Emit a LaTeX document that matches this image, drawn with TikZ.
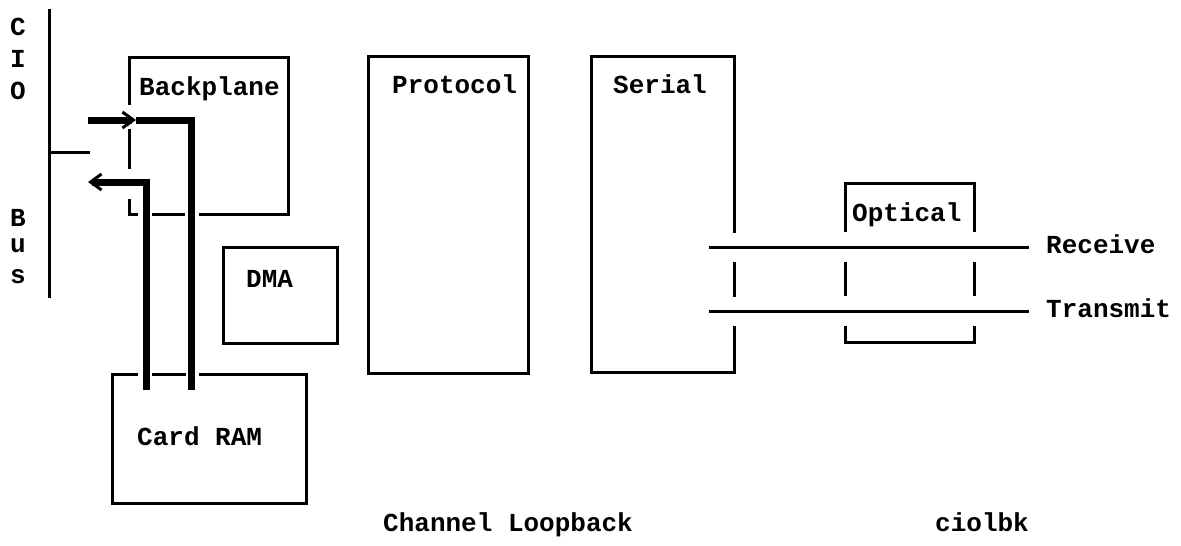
\documentclass[tikz,border=0pt]{standalone}
\usepackage{fontspec}
\setmainfont{Liberation Mono}
\usetikzlibrary{arrows.meta}
\begin{document}
\begin{tikzpicture}[x=1pt,y=-1pt,
  thin line/.style={line width=3pt,line cap=rect},
  bus line/.style={line width=7pt},
  lbl/.style={anchor=base west,inner sep=0pt,font=\fontsize{26}{30}\selectfont\bfseries},
  vlbl/.style={anchor=center,inner sep=0pt,font=\fontsize{26}{30}\selectfont\bfseries},
  tip/.style={-{Straight Barb[length=11pt,width=16pt,line width=3pt]}}]
\useasboundingbox (0,0) rectangle (1181,546);
% CIO bus
\draw[thin line] (49,10) -- (49,296);
\draw[thin line] (50,152) -- (88,152);
\node[vlbl] (lc) at (18,27) {C};
\node[vlbl] (li) at (18,59) {I};
\node[vlbl] (lo) at (18,91) {O};
\node[vlbl] (lb) at (18,218) {B};
\node[vlbl] (lu) at (18,246) {u};
\node[vlbl] (ls) at (18,277) {s};
% Backplane (broken box)
\draw[thin line] (129,103) -- (129,57) -- (288,57) -- (288,214) -- (200,214);
\draw[thin line] (129,130) -- (129,167);
\draw[thin line] (129,200) -- (129,214) -- (136,214);
\draw[thin line] (153,214) -- (183,214);
\node[lbl] (backplane) at (139,95) {Backplane};
% DMA
\draw[thin line] (223,247) rectangle (337,343);
\node[lbl] (dma) at (246,287) {DMA};
% Card RAM (broken top)
\draw[thin line] (136,374) -- (112,374) -- (112,503) -- (306,503) -- (306,374) -- (200,374);
\draw[thin line] (153,374) -- (184,374);
\node[lbl] (cardram) at (137,445) {Card RAM};
% Protocol
\draw[thin line] (368,56) rectangle (528,373);
\node[lbl] (protocol) at (392,93) {Protocol};
% Serial (broken right side)
\draw[thin line] (734,231) -- (734,56) -- (591,56) -- (591,372) -- (734,372) -- (734,327);
\draw[thin line] (734,263) -- (734,295);
\node[lbl] (serial) at (613,93) {Serial};
% Optical (broken sides)
\draw[thin line] (845,230) -- (845,183) -- (974,183) -- (974,230);
\draw[thin line] (845,263) -- (845,294);
\draw[thin line] (974,263) -- (974,294);
\draw[thin line] (845,327) -- (845,342) -- (974,342) -- (974,327);
\node[lbl] (optical) at (852,221) {Optical};
% Receive / Transmit lines
\coordinate (rxa) at (710,247);
\coordinate (rxb) at (1027,247);
\coordinate (txa) at (710,311);
\coordinate (txb) at (1027,311);
\draw[thin line] (rxa) -- (rxb);
\draw[thin line] (txa) -- (txb);
\node[lbl] (receive) at (1046,253) {Receive};
\node[lbl] (transmit) at (1046,317) {Transmit};
% thick data paths
\coordinate (inA) at (88,120);
\coordinate (inB) at (136,120);
\coordinate (inC) at (191,120);
\coordinate (inD) at (191,390);
\coordinate (outA) at (146,390);
\coordinate (outB) at (146,182);
\coordinate (outC) at (88,182);
\draw[bus line,tip] (inA) -- (inB);
\draw[bus line] (inB) -- (inC) -- (inD);
\draw[bus line,tip] (outA) -- (outB) -- (outC);
% captions
\node[lbl] (caption) at (383,531) {Channel Loopback};
\node[lbl] (fig) at (935,531) {ciolbk};
\end{tikzpicture}
\end{document}
